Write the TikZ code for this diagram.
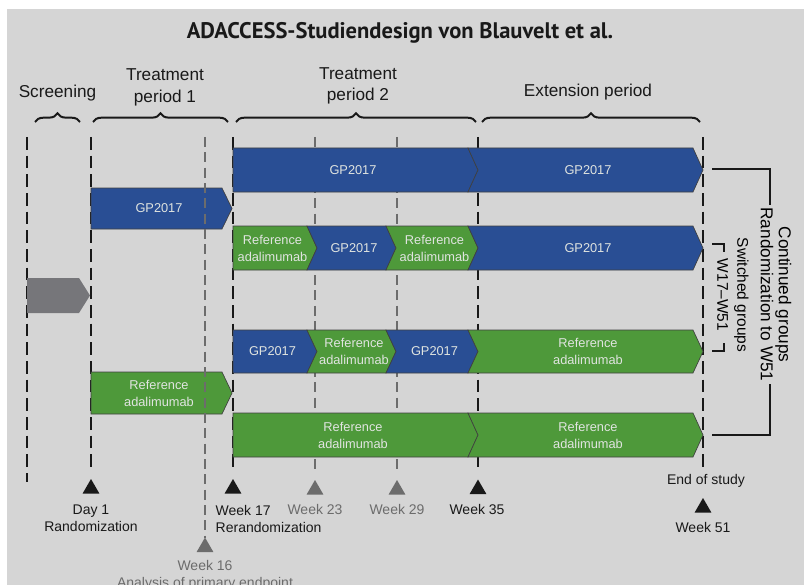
\documentclass[tikz,border=0pt]{standalone}
\usepackage{fontspec}
\setmainfont{Liberation Sans}
\newfontfamily\titlefont{PT Sans}
\usepackage{tikz}
\usetikzlibrary{positioning,decorations.pathreplacing,shapes.geometric}

\definecolor{panel}{RGB}{213,213,213}
\definecolor{gpblue}{RGB}{41,78,148}
\definecolor{refgreen}{RGB}{78,153,58}
\definecolor{screengray}{RGB}{118,118,122}
\definecolor{bartext}{RGB}{224,228,224}
\definecolor{ink}{RGB}{25,25,25}
\definecolor{faint}{RGB}{108,108,108}

\newcommand{\refadal}{Reference\\adalimumab}

\tikzset{
  milestone/.style={ink, line width=1.5pt, dash pattern=on 9.5pt off 4.5pt},
  interim/.style={faint, line width=1.1pt, dash pattern=on 7.5pt off 4pt},
  bar/.style={fill=#1, draw=black!75, line width=0.5pt, line join=miter},
  barlabel/.style={bartext, font=\fontsize{9.6}{12.75}\selectfont, align=center},
  weekmark/.style={regular polygon, regular polygon sides=3, fill=#1,
    inner sep=0pt, minimum size=14.7pt},
  weeklabel/.style={align=center, ink},
  period/.style={font=\fontsize{12.9}{16}\selectfont, align=center, ink},
  curly/.style={decorate, decoration={brace, amplitude=6.5pt}, line width=1.5pt, ink},
  grouptext/.style={rotate=-90, align=center, inner sep=2pt},
}

\begin{document}
\begin{tikzpicture}[x=0.75pt, y=-0.75pt, font=\fontsize{10.5}{12.75}\selectfont]
  \useasboundingbox (0,0) rectangle (804,585);
  \fill[white] (0,0) rectangle (804,585);
  \fill[panel] (7,9) rectangle (804,585);

  \node[font=\titlefont\bfseries\fontsize{16.9}{20}\selectfont, ink] (title) at (400,33)
    {ADACCESS-Studiendesign von Blauvelt et al.};

  % periods on top
  \node[period] (screening) at (57.5,93) {Screening};
  \node[period] (tp1) at (165,87.5) {Treatment\\period 1};
  \node[period] (tp2) at (358,86) {Treatment\\period 2};
  \node[period] (ext) at (588,92) {Extension period};
  \draw[curly] (35,122) -- (80,122);
  \draw[curly] (93,122) -- (228,122);
  \draw[curly] (236,122) -- (476,122);
  \draw[curly] (482,122) -- (700,122);

  % time grid, drawn behind the bars
  \foreach \n/\x/\e/\s in {scr/27/482/milestone, d1/91/472/milestone,
      w17/233/472/milestone, w23/315/471/interim, w29/397/471/interim,
      w35/478/472/milestone, w51/703/467/milestone}
    \draw[\s] (\x,137) coordinate (\n-top) -- (\x,\e) coordinate (\n-end);

  % screening arrow
  \draw[bar=screengray, draw=none] (27,278) -- (79,278) -- (90,295.5) -- (79,313) -- (27,313) -- cycle;

  % treatment arms: name/left/right/mid/half height/notch/colour/label
  \foreach \nm/\a/\b/\y/\h/\n/\c/\t in {
      r1a/233/478/170/22/0/gpblue/GP2017, r1b/478/703/170/22/10/gpblue/GP2017,
      r2a/91/232/208.5/20.5/0/gpblue/GP2017,
      r3a/233/317/248/22/0/refgreen/\refadal, r3b/317/396/248/22/10/gpblue/GP2017,
      r3c/396/478/248/22/10/refgreen/\refadal, r3d/478/703/248/22/10/gpblue/GP2017,
      r4a/233/317/351.5/21.5/0/gpblue/GP2017, r4b/317/396/351.5/21.5/10/refgreen/\refadal,
      r4c/396/478/351.5/21.5/10/gpblue/GP2017, r4d/478/703/351.5/21.5/10/refgreen/\refadal,
      r5a/91/232/393/21/0/refgreen/\refadal,
      r6a/233/478/435/22/0/refgreen/\refadal, r6b/478/703/435/22/10/refgreen/\refadal} {
    \draw[bar=\c] (\a-\n,\y-\h) -- (\b-10,\y-\h) -- (\b,\y) -- (\b-10,\y+\h)
      -- (\a-\n,\y+\h) -- (\a,\y) -- cycle;
    \node[barlabel] (\nm) at ({(\a+\b-5)/2},\y) {\t};
  }

  % primary endpoint line runs over the bars
  \draw[interim] (205,137) coordinate (w16-top) -- (205,538) coordinate (w16-end);

  % week markers
  \node[weekmark=ink] (d1-mark) at (91,488.8) {};
  \node[weekmark=ink] (w17-mark) at (233,488.8) {};
  \node[weekmark=faint] (w23-mark) at (315,489.8) {};
  \node[weekmark=faint] (w29-mark) at (397,489.8) {};
  \node[weekmark=ink] (w35-mark) at (478,489.3) {};
  \node[weekmark=ink] (w51-mark) at (703,507.8) {};
  \node[weekmark=faint] (w16-mark) at (205,547.3) {};

  \node[weeklabel] (d1-text) at (91,518.5) {Day 1\\Randomization};
  \node[weeklabel, align=left, anchor=west] (w17-text) at (211,518.5) {Week 17\\Rerandomization};
  \node[weeklabel, faint] (w23-text) at (315,509) {Week 23};
  \node[weeklabel, faint] (w29-text) at (397,509) {Week 29};
  \node[weeklabel] (w35-text) at (477,509) {Week 35};
  \node[weeklabel] (end-text) at (706,481) {End of study};
  \node[weeklabel] (w51-text) at (703,527) {Week 51};
  \node[weeklabel, faint] (w16-text) at (205,575.5) {Week 16\\Analysis of primary endpoint};

  % groups after rerandomization
  \coordinate (cont-a) at (712,169);
  \coordinate (cont-b) at (712,435);
  \draw[ink, line width=2.2pt] (cont-a) -- (770,169) -- (770,435) -- (cont-b);
  \node[grouptext, fill=panel, font=\fontsize{12.9}{13.5}\selectfont] (cont) at (776,294.5)
    {Continued groups\\Randomization to W51};
  \node[grouptext, font=\fontsize{11.6}{15}\selectfont] (sw) at (733,295)
    {Switched groups\\W17--W51};
  \coordinate (sw-a) at (712,244);
  \coordinate (sw-b) at (712,351);
  \draw[ink, line width=1.5pt] (sw-a) -- (724,244) -- (724,252);
  \draw[ink, line width=1.5pt] (sw-b) -- (724,351) -- (724,343);
\end{tikzpicture}
\end{document}
